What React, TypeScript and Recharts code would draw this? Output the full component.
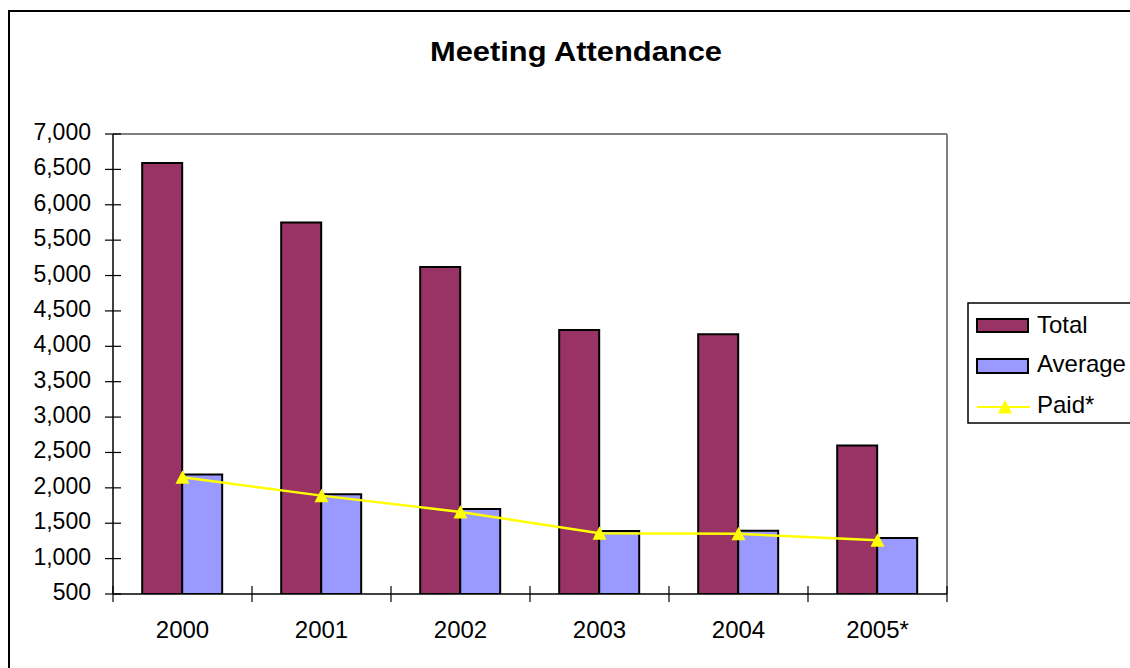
import React from 'react';
import { ComposedChart, Bar, Line, XAxis, YAxis, CartesianGrid } from 'recharts';

// Attendance per year
const years = ['2000', '2001', '2002', '2003', '2004', '2005*'];
const totalAttendance = [6590, 5750, 5120, 4230, 4170, 2600];
const averageAttendance = [2190, 1910, 1700, 1390, 1395, 1290];
const paidAttendance = [2150, 1890, 1660, 1360, 1350, 1260];
const yTicks = [500, 1000, 1500, 2000, 2500, 3000, 3500, 4000, 4500, 5000, 5500, 6000, 6500, 7000];

const data = years.map((year, i) => ({
  year,
  total: totalAttendance[i],
  average: averageAttendance[i],
  paid: paidAttendance[i],
}));

const W = 1130;
const H = 668;
const PLOT_LEFT = 113;
const PLOT_TOP = 134;
const PLOT_RIGHT = 947;
const PLOT_BOTTOM = 594;
const Y_AXIS_W = 90;
const X_AXIS_H = 50;
const BAND = (PLOT_RIGHT - PLOT_LEFT) / years.length;

const FONT = '"Liberation Sans", Arial, sans-serif';
const TOTAL_COLOR = '#993366';
const AVERAGE_COLOR = '#9999FF';
const PAID_COLOR = '#FFFF00';

const fmt = (v: number) => v.toLocaleString('en-US');

const YTick = (props: any) => {
  const { y, payload } = props;
  return (
    <g>
      <line x1={PLOT_LEFT - 8} x2={PLOT_LEFT + 8} y1={y} y2={y} stroke="#000" strokeWidth={1.2} />
      <text x={PLOT_LEFT - 22} y={y + 6} textAnchor="end" fontSize={23} fontFamily={FONT} fill="#000">
        {fmt(payload.value)}
      </text>
    </g>
  );
};

const XTick = (props: any) => {
  const { x, payload, index } = props;
  const left = x - BAND / 2;
  const right = x + BAND / 2;
  return (
    <g>
      <line x1={left} x2={left} y1={PLOT_BOTTOM - 8} y2={PLOT_BOTTOM + 8} stroke="#000" strokeWidth={1.2} />
      {index === years.length - 1 && (
        <line x1={right} x2={right} y1={PLOT_BOTTOM - 8} y2={PLOT_BOTTOM + 8} stroke="#000" strokeWidth={1.2} />
      )}
      <text x={x} y={PLOT_BOTTOM + 44} textAnchor="middle" fontSize={24} fontFamily={FONT} fill="#000">
        {payload.value}
      </text>
    </g>
  );
};

const Triangle = (props: any) => {
  const { cx, cy, index } = props;
  if (cx == null || cy == null) return <g key={`t-${index}`} />;
  return (
    <path
      key={`t-${index}`}
      d={`M${cx},${cy - 7} L${cx + 7},${cy + 6.5} L${cx - 7},${cy + 6.5} Z`}
      fill={PAID_COLOR}
    />
  );
};

export default function App() {
  return (
    <div style={{ position: 'fixed', left: 0, top: 0, width: W, height: H, overflow: 'hidden', background: '#fff' }}>
      <div
        style={{
          position: 'absolute',
          left: 8,
          top: 10,
          width: 1200,
          height: 700,
          border: '2px solid #000',
          boxSizing: 'border-box',
        }}
      />
      <div style={{ position: 'absolute', left: 0, top: 0 }}>
        <ComposedChart
          width={W}
          height={H}
          data={data}
          barCategoryGap="21%"
          barGap={0}
          margin={{
            top: PLOT_TOP,
            left: PLOT_LEFT - Y_AXIS_W,
            right: W - PLOT_RIGHT,
            bottom: H - PLOT_BOTTOM - X_AXIS_H,
          }}
        >
          <CartesianGrid
            horizontalPoints={[PLOT_TOP]}
            verticalPoints={[PLOT_RIGHT]}
            stroke="#808080"
            strokeWidth={2}
          />
          <XAxis
            dataKey="year"
            height={X_AXIS_H}
            tickLine={false}
            axisLine={{ stroke: '#000', strokeWidth: 1.5 }}
            tick={<XTick />}
            interval={0}
          />
          <YAxis
            width={Y_AXIS_W}
            domain={[500, 7000]}
            ticks={yTicks}
            interval={0}
            tickLine={false}
            axisLine={{ stroke: '#000', strokeWidth: 1.5 }}
            tick={<YTick />}
            allowDataOverflow
          />
          <Bar dataKey="total" name="Total" fill={TOTAL_COLOR} stroke="#000" strokeWidth={2} isAnimationActive={false} />
          <Bar dataKey="average" name="Average" fill={AVERAGE_COLOR} stroke="#000" strokeWidth={2} isAnimationActive={false} />
          <Line
            dataKey="paid"
            name="Paid*"
            type="linear"
            stroke={PAID_COLOR}
            strokeWidth={2.5}
            dot={<Triangle />}
            activeDot={false}
            isAnimationActive={false}
          />
        </ComposedChart>
      </div>
      <svg
        width={W}
        height={H}
        style={{ position: 'absolute', left: 0, top: 0, pointerEvents: 'none' }}
      >
        <text
          x={430}
          y={61}
          fontSize={27}
          fontWeight="bold"
          fontFamily={FONT}
          textLength={292}
          lengthAdjust="spacingAndGlyphs"
          fill="#000"
        >
          Meeting Attendance
        </text>
        <g fontFamily={FONT} fontSize={24} fill="#000">
          <rect x={968} y={303} width={170} height={120} fill="#fff" stroke="#000" strokeWidth={1.5} />
          <rect x={977} y={319} width={51} height={13} fill={TOTAL_COLOR} stroke="#000" strokeWidth={2} />
          <text x={1037} y={333}>Total</text>
          <rect x={977} y={359} width={51} height={14} fill={AVERAGE_COLOR} stroke="#000" strokeWidth={2} />
          <text x={1037} y={372}>Average</text>
          <line x1={977} x2={1030} y1={407} y2={407} stroke={PAID_COLOR} strokeWidth={2} />
          <path d="M1005,400 L1012,413.5 L998,413.5 Z" fill={PAID_COLOR} />
          <text x={1037} y={412.5}>Paid*</text>
        </g>
      </svg>
    </div>
  );
}
